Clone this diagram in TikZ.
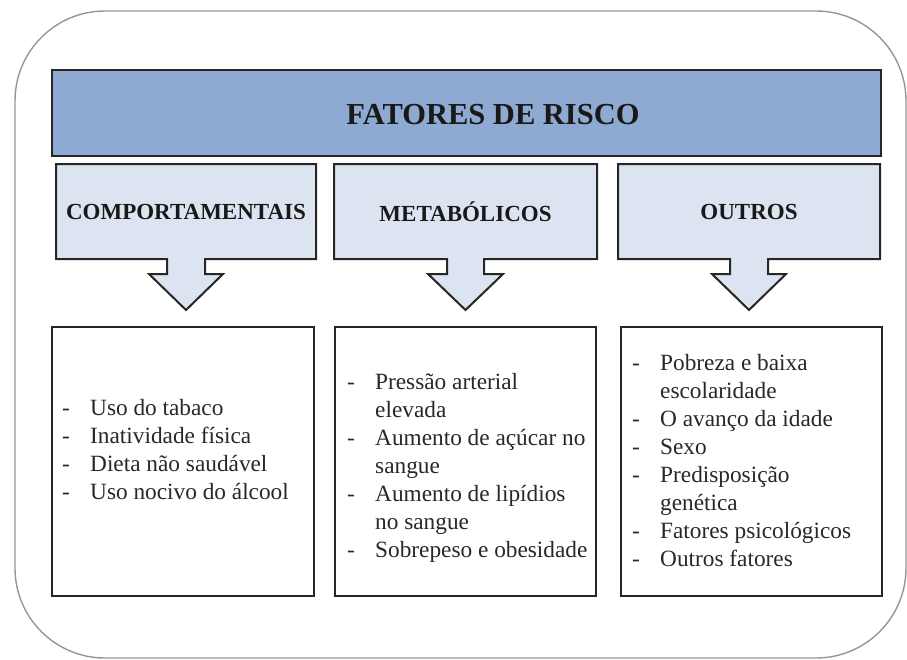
\documentclass[tikz,border=0pt]{standalone}
\usepackage{fontspec}
\setmainfont{Liberation Serif}
\usepackage{array}
\definecolor{titleblue}{RGB}{143,170,210}
\definecolor{subblue}{RGB}{220,228,241}
\definecolor{framegray}{RGB}{150,150,150}
\definecolor{txt}{RGB}{40,40,40}
\tikzset{
  frame/.style={draw=framegray, line width=1.4pt, rounded corners=90pt},
  boxline/.style={draw=black!85, line width=2pt, line join=miter},
  titlebox/.style={boxline, fill=titleblue},
  callbox/.style={boxline, fill=subblue},
  listbox/.style={boxline, fill=white},
  headtxt/.style={font=\fontsize{23}{27}\selectfont\bfseries, text=black!90},
  titletxt/.style={font=\fontsize{30.5}{34}\selectfont\bfseries, text=black!90},
  listtxt/.style={font=\fontsize{23.3}{28}\selectfont, text=txt, inner sep=0pt, anchor=base west}
}
\newcommand{\riskl}[1]{\begin{tabular}[t]{@{}p{28pt}@{}l@{}}#1\end{tabular}}
\begin{document}
\begin{tikzpicture}[x=1pt,y=-1pt]
\useasboundingbox (0,0) rectangle (907,659);
% outer frame
\draw[frame] (15,11) rectangle (906,658);
% title band
\draw[titlebox] (52,70) rectangle (881,156);
\node[titletxt] (title) at (493,115) {FATORES DE RISCO};
% callout boxes
\draw[callbox] (56,164) -- (316,164) -- (316,259) -- (205,259) -- (205,274) -- (223,274) -- (186,310) -- (149,274) -- (167,274) -- (167,259) -- (56,259) -- cycle;
\draw[callbox] (334,164) -- (597,164) -- (597,259) -- (484,259) -- (484,274) -- (503,274) -- (465.5,310) -- (428,274) -- (447,274) -- (447,259) -- (334,259) -- cycle;
\draw[callbox] (618,164) -- (880,164) -- (880,259) -- (768,259) -- (768,274) -- (786,274) -- (749,310) -- (712,274) -- (730,274) -- (730,259) -- (618,259) -- cycle;
\node[headtxt] (h1) at (186,212) {COMPORTAMENTAIS};
\node[headtxt] (h2) at (465.5,212) {METABÓLICOS};
\node[headtxt] (h3) at (749,212) {OUTROS};
% list boxes
\draw[listbox] (52,327) rectangle (314,596);
\draw[listbox] (335,327) rectangle (596,596);
\draw[listbox] (621,327) rectangle (882,596);
\node[listtxt] (l1) at (62,415) {\riskl{- & Uso do tabaco\\ - & Inatividade física\\ - & Dieta não saudável\\ - & Uso nocivo do álcool}};
\node[listtxt] (l2) at (347,389) {\riskl{- & Pressão arterial\\ & elevada\\ - & Aumento de açúcar no\\ & sangue\\ - & Aumento de lipídios\\ & no sangue\\ - & Sobrepeso e obesidade}};
\node[listtxt] (l3) at (632,370) {\riskl{- & Pobreza e baixa\\ & escolaridade\\ - & O avanço da idade\\ - & Sexo\\ - & Predisposição\\ & genética\\ - & Fatores psicológicos\\ - & Outros fatores}};
\end{tikzpicture}
\end{document}
